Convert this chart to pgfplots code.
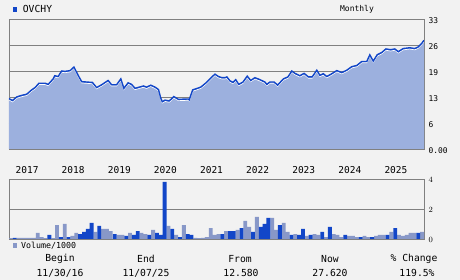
\documentclass[border=0pt]{standalone}
\usepackage{fontspec}
\setmainfont{DejaVu Sans Mono}
\usepackage{pgfplots}
\pgfplotsset{compat=1.18}
\definecolor{bg}{HTML}{F2F2F2}
\definecolor{gridc}{HTML}{808080}
\definecolor{linec}{HTML}{1246C8}
\definecolor{areac}{HTML}{9CB0DE}
\definecolor{lightbar}{HTML}{8898C8}
\definecolor{darkbar}{HTML}{1246C8}

\begin{document}
\begin{tikzpicture}
\path[use as bounding box, fill=bg] (0pt,0pt) rectangle (460pt,280pt);
\begin{axis}[
  at={(9pt,131pt)}, anchor=south west,
  width=415pt, height=130pt, scale only axis,
  xmin=0, xmax=108, ymin=0, ymax=33,
  enlargelimits=false,
  axis line style={gridc, line width=0.8pt},
  ymajorgrids, grid style={gridc, line width=0.8pt},
  major tick length=0pt,
  ytick={0,6.6,13.2,19.8,26.4,33},
  yticklabels={0.00,6,13,19,26,33},
  yticklabel pos=right,
  yticklabel style={font=\fontsize{7.9}{8}\selectfont, anchor=west, xshift=1pt, yshift=-2pt},
  xtick={4.7,16.7,28.7,40.7,52.7,64.7,76.7,88.7,100.7},
  xticklabels={2017,2018,2019,2020,2021,2022,2023,2024,2025},
  xticklabel style={font=\fontsize{9.5}{10}\selectfont, anchor=center, yshift=-21pt},
]
\addplot[fill=areac, draw=none] table {
0.0 12.8
0.9 12.3
2.0 13.2
2.9 13.5
3.7 13.7
4.6 13.9
5.9 15.0
6.8 15.6
7.8 16.7
9.4 16.7
10.2 16.4
11.5 17.8
11.9 18.6
12.8 18.4
13.7 19.8
14.6 19.7
15.9 19.9
16.9 20.8
18.0 18.7
18.9 17.1
20.2 17.0
21.7 16.9
22.8 15.6
24.1 16.3
25.8 17.4
26.7 16.3
28.0 16.3
29.1 17.8
29.9 15.4
31.0 16.8
31.9 16.4
32.8 15.4
33.9 15.7
35.0 16.0
35.8 15.7
36.9 16.2
38.0 15.7
38.9 15.1
39.5 12.9
39.9 12.0
40.6 12.4
41.7 12.2
42.9 13.3
44.1 12.6
46.7 12.7
46.9 12.5
47.8 15.0
49.0 15.4
49.9 15.7
51.4 16.9
52.7 18.2
53.6 19.0
54.5 18.4
55.4 18.1
56.2 18.1
56.7 18.3
57.5 17.3
58.3 16.9
59.0 17.6
59.8 16.4
60.9 17.0
62.0 18.5
62.9 17.4
64.0 18.1
65.3 17.6
66.6 17.0
67.1 16.4
67.9 17.0
69.0 17.0
69.9 16.2
71.4 17.8
72.6 18.3
73.6 19.8
74.4 19.2
75.7 18.6
76.8 19.2
77.9 18.3
78.9 18.3
80.1 20.0
80.9 18.7
81.8 19.1
82.7 18.4
84.0 19.1
85.3 19.9
86.6 19.4
87.9 20.0
89.2 20.9
90.5 21.2
91.8 22.2
93.1 22.2
93.9 23.9
94.8 22.3
95.8 23.9
97.0 24.5
98.1 25.4
99.3 25.2
100.4 25.4
101.3 24.7
102.6 25.5
104.3 25.7
105.6 25.5
106.5 25.9
107.4 26.8
108.0 27.6
} \closedcycle;
\addplot[white, line width=0.7pt, yshift=-1.3pt] table {
0.0 12.8
0.9 12.3
2.0 13.2
2.9 13.5
3.7 13.7
4.6 13.9
5.9 15.0
6.8 15.6
7.8 16.7
9.4 16.7
10.2 16.4
11.5 17.8
11.9 18.6
12.8 18.4
13.7 19.8
14.6 19.7
15.9 19.9
16.9 20.8
18.0 18.7
18.9 17.1
20.2 17.0
21.7 16.9
22.8 15.6
24.1 16.3
25.8 17.4
26.7 16.3
28.0 16.3
29.1 17.8
29.9 15.4
31.0 16.8
31.9 16.4
32.8 15.4
33.9 15.7
35.0 16.0
35.8 15.7
36.9 16.2
38.0 15.7
38.9 15.1
39.5 12.9
39.9 12.0
40.6 12.4
41.7 12.2
42.9 13.3
44.1 12.6
46.7 12.7
46.9 12.5
47.8 15.0
49.0 15.4
49.9 15.7
51.4 16.9
52.7 18.2
53.6 19.0
54.5 18.4
55.4 18.1
56.2 18.1
56.7 18.3
57.5 17.3
58.3 16.9
59.0 17.6
59.8 16.4
60.9 17.0
62.0 18.5
62.9 17.4
64.0 18.1
65.3 17.6
66.6 17.0
67.1 16.4
67.9 17.0
69.0 17.0
69.9 16.2
71.4 17.8
72.6 18.3
73.6 19.8
74.4 19.2
75.7 18.6
76.8 19.2
77.9 18.3
78.9 18.3
80.1 20.0
80.9 18.7
81.8 19.1
82.7 18.4
84.0 19.1
85.3 19.9
86.6 19.4
87.9 20.0
89.2 20.9
90.5 21.2
91.8 22.2
93.1 22.2
93.9 23.9
94.8 22.3
95.8 23.9
97.0 24.5
98.1 25.4
99.3 25.2
100.4 25.4
101.3 24.7
102.6 25.5
104.3 25.7
105.6 25.5
106.5 25.9
107.4 26.8
108.0 27.6
};
\addplot[linec, line width=1.4pt] table {
0.0 12.8
0.9 12.3
2.0 13.2
2.9 13.5
3.7 13.7
4.6 13.9
5.9 15.0
6.8 15.6
7.8 16.7
9.4 16.7
10.2 16.4
11.5 17.8
11.9 18.6
12.8 18.4
13.7 19.8
14.6 19.7
15.9 19.9
16.9 20.8
18.0 18.7
18.9 17.1
20.2 17.0
21.7 16.9
22.8 15.6
24.1 16.3
25.8 17.4
26.7 16.3
28.0 16.3
29.1 17.8
29.9 15.4
31.0 16.8
31.9 16.4
32.8 15.4
33.9 15.7
35.0 16.0
35.8 15.7
36.9 16.2
38.0 15.7
38.9 15.1
39.5 12.9
39.9 12.0
40.6 12.4
41.7 12.2
42.9 13.3
44.1 12.6
46.7 12.7
46.9 12.5
47.8 15.0
49.0 15.4
49.9 15.7
51.4 16.9
52.7 18.2
53.6 19.0
54.5 18.4
55.4 18.1
56.2 18.1
56.7 18.3
57.5 17.3
58.3 16.9
59.0 17.6
59.8 16.4
60.9 17.0
62.0 18.5
62.9 17.4
64.0 18.1
65.3 17.6
66.6 17.0
67.1 16.4
67.9 17.0
69.0 17.0
69.9 16.2
71.4 17.8
72.6 18.3
73.6 19.8
74.4 19.2
75.7 18.6
76.8 19.2
77.9 18.3
78.9 18.3
80.1 20.0
80.9 18.7
81.8 19.1
82.7 18.4
84.0 19.1
85.3 19.9
86.6 19.4
87.9 20.0
89.2 20.9
90.5 21.2
91.8 22.2
93.1 22.2
93.9 23.9
94.8 22.3
95.8 23.9
97.0 24.5
98.1 25.4
99.3 25.2
100.4 25.4
101.3 24.7
102.6 25.5
104.3 25.7
105.6 25.5
106.5 25.9
107.4 26.8
108.0 27.6
};
\end{axis}

\begin{axis}[
  at={(9pt,41pt)}, anchor=south west,
  width=415pt, height=60pt, scale only axis,
  xmin=0, xmax=108, ymin=0, ymax=4,
  enlargelimits=false,
  axis line style={gridc, line width=0.8pt},
  ymajorgrids, grid style={gridc, line width=0.8pt},
  major tick length=0pt,
  ytick={0,2,4},
  yticklabel pos=right,
  yticklabel style={font=\fontsize{7.9}{8}\selectfont, anchor=west, xshift=1pt, yshift=-1pt},
  xtick=\empty,
]
\addplot[ybar, bar shift=0pt, bar width=3.84pt, fill=lightbar, draw=none] table {
0.5 0.05
2.5 0.07
3.5 0.07
4.5 0.07
5.5 0.07
6.5 0.07
7.5 0.4
8.5 0.13
9.5 0.05
11.5 0.05
12.5 0.93
14.5 1.0
16.5 0.2
17.5 0.4
22.5 0.47
24.5 0.67
25.5 0.67
26.5 0.53
28.5 0.27
29.5 0.27
31.5 0.4
34.5 0.4
35.5 0.33
37.5 0.6
41.5 0.87
43.5 0.27
45.5 0.93
48.5 0.07
49.5 0.05
50.5 0.07
51.5 0.13
52.5 0.73
53.5 0.27
54.5 0.33
56.5 0.53
59.5 0.6
61.5 1.2
62.5 0.8
64.5 1.47
68.5 1.4
69.5 0.6
71.5 1.07
72.5 0.47
74.5 0.33
77.5 0.2
79.5 0.33
80.5 0.27
82.5 0.13
84.5 0.33
85.5 0.27
86.5 0.13
88.5 0.2
89.5 0.2
90.5 0.13
92.5 0.2
93.5 0.13
95.5 0.2
96.5 0.27
97.5 0.27
99.5 0.47
101.5 0.27
102.5 0.2
103.5 0.27
104.5 0.4
105.5 0.4
107.5 0.47
};
\addplot[ybar, bar shift=0pt, bar width=3.84pt, fill=darkbar, draw=none] table {
1.5 0.07
10.5 0.27
13.5 0.13
15.5 0.13
18.5 0.33
19.5 0.47
20.5 0.67
21.5 1.07
23.5 0.87
27.5 0.33
30.5 0.2
32.5 0.27
33.5 0.53
36.5 0.27
38.5 0.4
39.5 0.27
40.5 3.8
42.5 0.67
44.5 0.13
46.5 0.33
47.5 0.27
55.5 0.33
57.5 0.53
58.5 0.53
60.5 0.73
63.5 0.47
65.5 0.8
66.5 1.0
67.5 1.4
70.5 0.93
73.5 0.27
75.5 0.27
76.5 0.67
78.5 0.27
81.5 0.47
83.5 0.8
87.5 0.27
91.5 0.13
94.5 0.13
98.5 0.27
100.5 0.73
106.5 0.4
};
\end{axis}

% header legend
\fill[linec] (12.7pt,268.3pt) rectangle (17.3pt,273.3pt);
\node[anchor=west, inner sep=0pt, font=\fontsize{9.7}{10}\selectfont] at (22.7pt,271pt) {OVCHY};
\node[inner sep=0pt, font=\fontsize{8}{9}\selectfont] at (357pt,271pt) {Monthly};
% volume legend
\fill[lightbar] (12.7pt,32.3pt) rectangle (17.3pt,36.7pt);
\node[anchor=west, inner sep=0pt, font=\fontsize{8.3}{9}\selectfont] at (21pt,34.5pt) {Volume/1000};
% bottom summary
\begin{scope}[every node/.style={inner sep=0pt, font=\fontsize{9.7}{10}\selectfont}]
\node at (60pt,21pt) {Begin};
\node at (60pt,7pt) {11/30/16};
\node at (146pt,21pt) {End};
\node at (146pt,7pt) {11/07/25};
\node at (240pt,21pt) {From};
\node at (241pt,7pt) {12.580};
\node at (330pt,21pt) {Now};
\node at (330pt,7pt) {27.620};
\node at (414pt,21pt) {\% Change};
\node at (417pt,7pt) {119.5\%};
\end{scope}
\end{tikzpicture}
\end{document}
